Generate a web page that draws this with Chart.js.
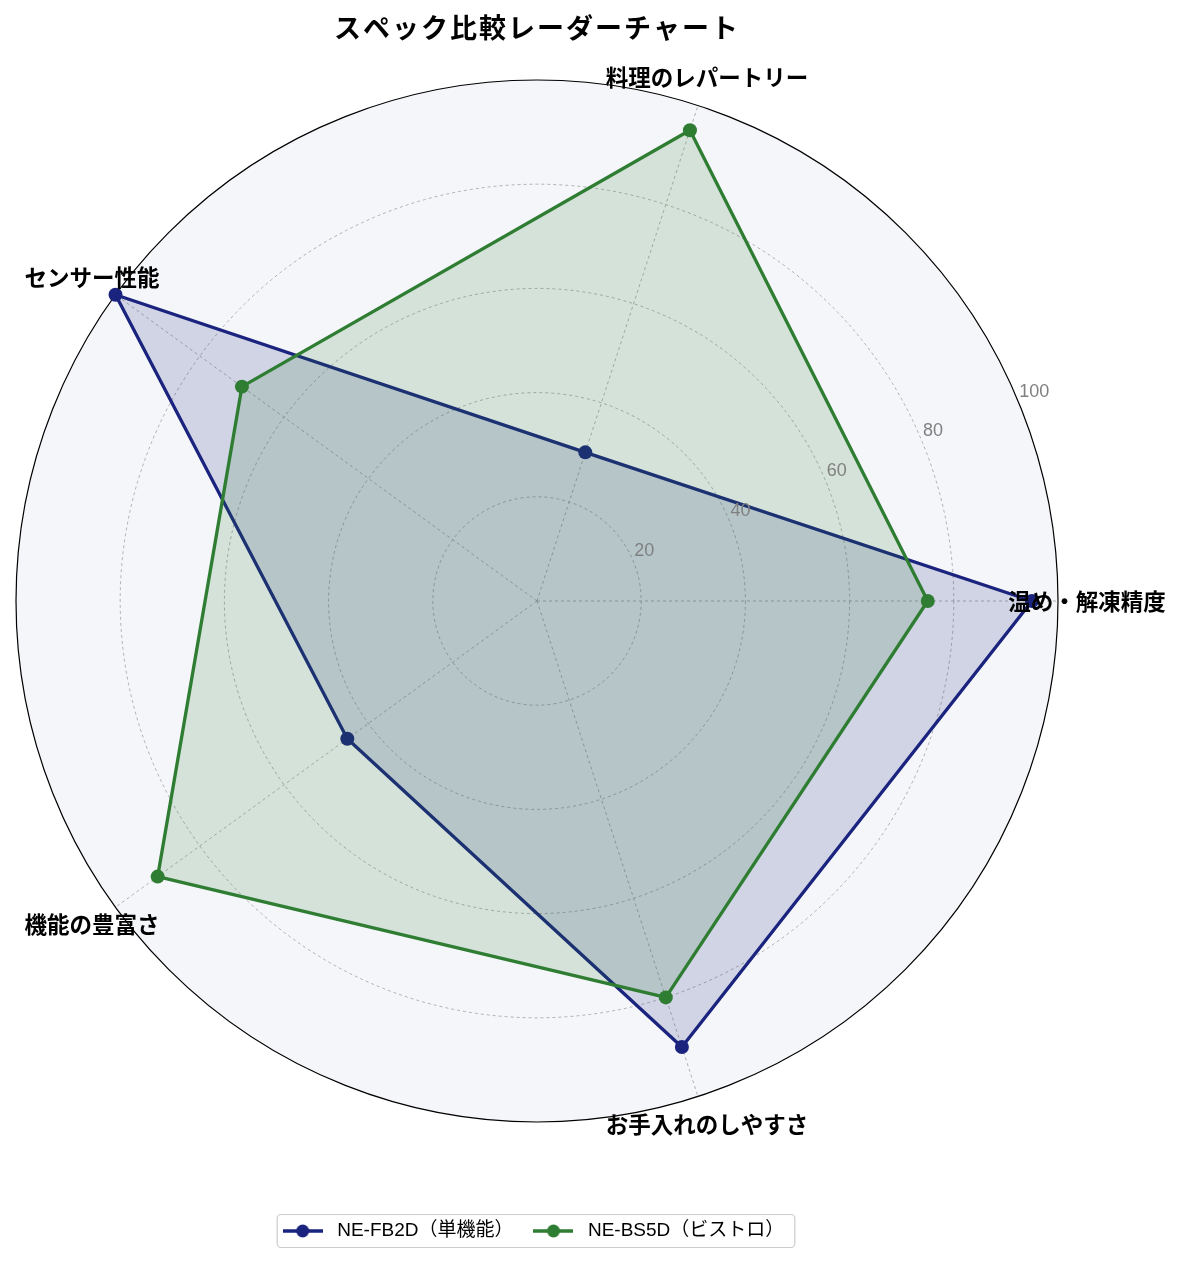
<!DOCTYPE html>
<html lang="ja">
<head>
<meta charset="utf-8">
<title>スペック比較レーダーチャート</title>
<script src="https://cdn.jsdelivr.net/npm/chart.js@4.4.1/dist/chart.umd.min.js"></script>
<style>
  html, body { margin: 0; padding: 0; background: #ffffff; }
  #wrap { width: 1181px; height: 1263px; position: relative; }
</style>
</head>
<body>
<div id="wrap"><canvas id="radar"></canvas></div>
<script>
const chartTitle = 'スペック比較レーダーチャート';
const categories = ['温め・解凍精度', '料理のレパートリー', 'センサー性能', '機能の豊富さ', 'お手入れのしやすさ'];
const fb2dLabel = 'NE-FB2D（単機能）';
const fb2dScores = [95, 30, 100, 45, 90];
const bs5dLabel = 'NE-BS5D（ビストロ）';
const bs5dScores = [75, 95, 70, 90, 80];
const tickValues = [20, 40, 60, 80, 100];

const navy = '#1a237e';
const green = '#2e7d32';
const jpFont = "'Noto Sans CJK JP', 'Noto Sans', sans-serif";
const latinFont = "'Liberation Sans', 'Noto Sans CJK JP', sans-serif";

// the reference runs counter-clockwise from the right, Chart.js runs clockwise
const order = [0, 4, 3, 2, 1];
const reorder = arr => order.map(i => arr[i]);

// line + dot handle for the legend
function legendHandle(color) {
  const c = document.createElement('canvas');
  c.width = 40;
  c.height = 16;
  const g = c.getContext('2d');
  g.strokeStyle = color;
  g.lineWidth = 3.3;
  g.beginPath();
  g.moveTo(0, 8);
  g.lineTo(40, 8);
  g.stroke();
  g.fillStyle = color;
  g.beginPath();
  g.arc(20, 8, 6.5, 0, Math.PI * 2);
  g.fill();
  return c;
}
const handles = [legendHandle(navy), legendHandle(green)];

const decorations = {
  id: 'decorations',
  afterLayout(chart) {
    // nudge the legend a little left and down, like the reference
    const lg = chart.legend;
    lg.left -= 6;
    lg.right -= 6;
    lg.top += 3;
    lg.bottom += 3;
  },
  beforeDraw(chart) {
    const r = chart.scales.r;
    const ctx = chart.ctx;
    ctx.save();
    ctx.fillStyle = '#f5f6fa';
    ctx.beginPath();
    ctx.arc(r.xCenter, r.yCenter, r.getDistanceFromCenterForValue(100), 0, Math.PI * 2);
    ctx.fill();
    ctx.restore();
  },
  beforeDatasetsDraw(chart) {
    const r = chart.scales.r;
    const ctx = chart.ctx;
    ctx.save();
    ctx.strokeStyle = '#000000';
    ctx.lineWidth = 1.2;
    ctx.beginPath();
    ctx.arc(r.xCenter, r.yCenter, r.getDistanceFromCenterForValue(100), 0, Math.PI * 2);
    ctx.stroke();
    ctx.restore();
  },
  afterDatasetsDraw(chart) {
    const r = chart.scales.r;
    const ctx = chart.ctx;
    ctx.save();

    // radial tick labels at 22.5 degrees
    const a = 22.5 * Math.PI / 180;
    ctx.font = '18px ' + latinFont;
    ctx.fillStyle = '#808080';
    ctx.textAlign = 'left';
    ctx.textBaseline = 'middle';
    tickValues.forEach(v => {
      const d = r.getDistanceFromCenterForValue(v);
      ctx.fillText(String(v), r.xCenter + d * Math.cos(a) + 1, r.yCenter - d * Math.sin(a) - 10);
    });

    // category labels, centred just outside the circle
    ctx.font = 'bold 22.5px ' + jpFont;
    ctx.fillStyle = '#000000';
    ctx.textAlign = 'center';
    const labelDist = r.getDistanceFromCenterForValue(100) + 29;
    r._pointLabels.forEach((txt, i) => {
      const p = r.getPointPosition(i, labelDist);
      ctx.fillText(txt, p.x, p.y);
    });
    ctx.restore();
  },
  afterDraw(chart) {
    const r = chart.scales.r;
    const ctx = chart.ctx;
    ctx.save();
    ctx.font = 'bold 27px ' + jpFont;
    ctx.fillStyle = '#000000';
    ctx.textAlign = 'center';
    ctx.textBaseline = 'middle';
    ctx.letterSpacing = '2px';
    ctx.fillText(chartTitle, r.xCenter, 28);
    ctx.restore();

    // legend frame
    const boxes = chart.legend.legendHitBoxes;
    if (boxes && boxes.length) {
      const first = boxes[0];
      const last = boxes[boxes.length - 1];
      const x0 = first.left - 1;
      const x1 = last.left + last.width + 10;
      const y0 = first.top + first.height / 2 - 17;
      ctx.save();
      ctx.strokeStyle = '#cccccc';
      ctx.lineWidth = 1.2;
      ctx.beginPath();
      ctx.roundRect(x0 + 0.5, y0 + 0.5, x1 - x0, 33, 4);
      ctx.stroke();
      ctx.restore();
    }
  }
};

const config = {
  type: 'radar',
  data: {
    labels: reorder(categories),
    datasets: [{
      label: fb2dLabel,
      data: reorder(fb2dScores),
      borderColor: navy,
      backgroundColor: 'rgba(26, 35, 126, 0.16)',
      borderWidth: 3.3,
      pointRadius: 7,
      pointBorderWidth: 0,
      pointBackgroundColor: navy,
      fill: true,
      clip: false,
      order: 1
    }, {
      label: bs5dLabel,
      data: reorder(bs5dScores),
      borderColor: green,
      backgroundColor: 'rgba(46, 125, 50, 0.16)',
      borderWidth: 3.3,
      pointRadius: 7,
      pointBorderWidth: 0,
      pointBackgroundColor: green,
      fill: true,
      clip: false,
      order: 0
    }]
  },
  options: {
    responsive: true,
    maintainAspectRatio: false,
    animation: false,
    events: [],
    layout: {
      padding: { left: 16, right: 123, top: 0, bottom: 15.5 }
    },
    elements: {
      line: { tension: 0, borderJoinStyle: 'round' }
    },
    scales: {
      r: {
        min: 0,
        max: 100,
        startAngle: 90,
        ticks: { display: false, stepSize: 20 },
        pointLabels: { display: false },
        grid: {
          circular: true,
          color: c => (c.tick && c.tick.value >= 100) ? 'rgba(0,0,0,0)' : '#a0a0a0',
          lineWidth: 0.8
        },
        border: { dash: [3, 3] },
        angleLines: {
          color: '#a0a0a0',
          lineWidth: 0.8,
          borderDash: [3, 3]
        }
      }
    },
    plugins: {
      title: { display: false },
      tooltip: { enabled: false },
      legend: {
        position: 'bottom',
        labels: {
          usePointStyle: true,
          pointStyleWidth: 50,
          boxHeight: 16,
          padding: 15,
          color: '#1a1a1a',
          font: { size: 19, family: latinFont },
          generateLabels: chart => chart.data.datasets.map((ds, i) => ({
            text: ds.label,
            pointStyle: handles[i],
            fillStyle: ds.borderColor,
            strokeStyle: ds.borderColor,
            lineWidth: 0,
            hidden: false,
            datasetIndex: i
          }))
        }
      }
    }
  },
  plugins: [decorations]
};

new Chart(document.getElementById('radar'), config);
</script>
</body>
</html>
